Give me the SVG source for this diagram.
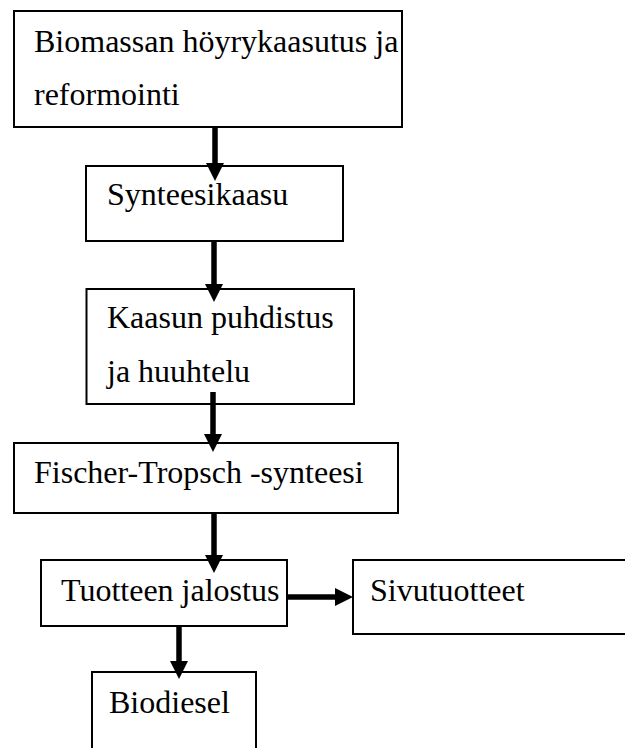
<svg xmlns="http://www.w3.org/2000/svg" width="625" height="748" viewBox="0 0 625 748">
<style>
.box{fill:#fff;stroke:#000;stroke-width:2}
.t{font-family:"Liberation Serif","Times New Roman",serif;font-size:32px;fill:#000}
.sh{stroke:#000;stroke-width:5.5;fill:none}
.hd{fill:#000}
</style>
<rect width="625" height="748" fill="#fff"/>
<g id="n1"><rect class="box" x="14" y="11" width="388" height="116"/><text class="t" x="34" y="52">Biomassan höyrykaasutus ja</text><text class="t" x="34" y="105">reformointi</text></g>
<g id="n2"><rect class="box" x="86" y="166" width="257" height="75"/><text class="t" x="107" y="205">Synteesikaasu</text></g>
<g id="n3"><rect class="box" x="86.5" y="289" width="267.5" height="115"/><text class="t" x="107" y="328">Kaasun puhdistus</text><text class="t" x="107" y="381.5">ja huuhtelu</text></g>
<g id="n4"><rect class="box" x="14" y="443" width="384" height="70"/><text class="t" x="34" y="483">Fischer-Tropsch -synteesi</text></g>
<g id="n5"><rect class="box" x="41" y="560" width="246" height="66"/><text class="t" x="61" y="601">Tuotteen jalostus</text></g>
<g id="n6"><rect class="box" x="353" y="560" width="280" height="74"/><text class="t" x="370" y="601">Sivutuotteet</text></g>
<g id="n7"><rect class="box" x="92" y="672" width="164" height="90"/><text class="t" x="109" y="712.5">Biodiesel</text></g>
<g id="connectors">
<line class="sh" x1="215" y1="127" x2="215" y2="165"/><polygon class="hd" points="206,163 224,163 215,181"/>
<line class="sh" x1="214" y1="241" x2="214" y2="286"/><polygon class="hd" points="205,284 223,284 214,302"/>
<line class="sh" x1="213" y1="392" x2="213" y2="436"/><polygon class="hd" points="204,434 222,434 213,452"/>
<line class="sh" x1="214" y1="513" x2="214" y2="557"/><polygon class="hd" points="205,555 223,555 214,573"/>
<line class="sh" x1="288" y1="597" x2="337" y2="597"/><polygon class="hd" points="335,588 335,606 353,597"/>
<line class="sh" x1="179" y1="626" x2="179" y2="663"/><polygon class="hd" points="170,661 188,661 179,679"/>
</g>
</svg>
